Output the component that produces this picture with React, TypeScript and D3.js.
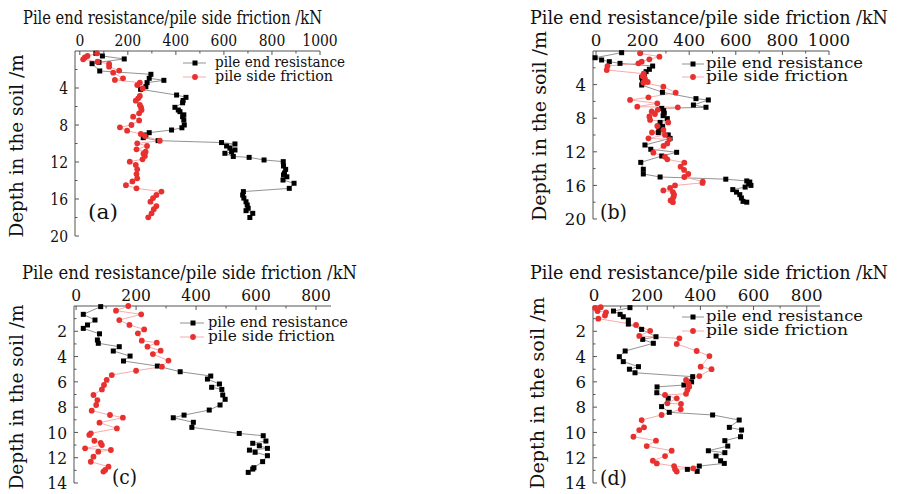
import React from "react";
import * as d3 from "d3";

// ---------------- DATA ----------------
const aEndDepth = [0.25,0.54,0.86,1.22,1.37,2.16,2.52,2.95,3.17,3.42,3.86,4.14,4.76,5.01,5.35,5.6,6.09,6.38,6.56,6.9,7.1,7.46,8.0,8.3,8.54,8.83,9.08,9.37,9.69,9.9,10.05,10.27,10.5,10.7,10.9,11.06,11.4,11.5,11.78,11.96,12.43,12.8,13.2,13.4,13.6,13.95,14.3,14.85,15.2,15.57,15.9,16.3,16.65,17.0,17.26,17.55,18.0];
const aEndValue = [67,94,185,80,51,83,296,289,350,280,275,253,403,442,430,428,396,410,417,433,428,433,435,425,382,289,275,264,326,590,646,611,625,646,632,604,639,705,767,847,848,857,852,848,862,846,892,872,681,678,683,692,697,701,692,720,708];
const aSideDepth = [0.25,0.54,0.7,0.9,1.15,1.4,1.69,2.12,2.34,2.95,3.13,3.42,3.68,4.05,4.86,5.12,5.37,5.84,6.1,6.38,6.74,7.1,7.5,8.0,8.25,8.61,8.97,9.19,9.7,9.98,10.27,10.63,10.88,11.1,11.35,11.71,11.96,12.32,12.79,13.3,13.77,14.1,14.5,14.85,15.2,15.57,15.9,16.29,16.76,17.1,17.55,17.98];
const aSideValue = [72,32,21,14,74,122,122,164,139,180,146,250,239,262,250,243,233,250,255,257,247,222,247,215,167,197,254,271,333,239,280,236,274,265,271,261,208,233,239,236,239,219,192,236,340,319,305,294,319,308,299,285];

const bEndDepth = [0.2,0.8,1.07,1.27,1.47,1.79,2.18,2.46,2.74,3.13,3.65,4.05,4.92,5.67,5.83,6.43,6.7,6.83,7.1,7.4,7.7,8.05,8.5,9.0,9.4,9.72,9.99,10.4,11.19,11.7,12.06,12.5,13.26,14.08,14.64,15.0,15.26,15.47,15.6,15.8,16.0,16.2,16.5,16.8,17.1,17.5,17.9,18.0];
const bEndValue = [110,-4,24,57,103,243,229,215,207,196,199,196,285,429,482,418,472,282,290,293,288,306,275,286,270,267,310,318,210,235,346,282,192,203,203,275,557,647,660,655,665,640,587,603,617,624,631,647];
const bSideDepth = [0.28,0.67,0.99,1.27,1.47,1.79,2.26,2.7,3.0,3.3,3.69,3.77,4.25,4.96,5.52,5.83,6.23,6.63,6.7,7.0,7.2,7.5,7.8,8.2,8.5,8.93,9.4,9.7,9.99,10.4,10.52,11.0,11.3,12.1,12.6,12.9,13.29,13.77,14.16,14.64,15.0,15.55,15.7,16.0,16.3,16.6,16.8,17.1,17.4,17.8,18.0];
const bSideValue = [189,272,229,196,182,49,46,205,200,210,222,203,289,342,225,146,263,177,351,265,239,253,229,232,310,263,289,240,296,225,315,306,290,246,296,306,379,363,378,396,379,458,457,339,318,289,330,335,332,320,330];

const cEndDepth = [0.05,0.66,1.11,1.5,1.77,2.2,2.69,2.95,3.22,3.56,3.96,4.35,4.75,5.2,5.54,5.78,6.17,6.43,6.6,7.04,7.38,7.83,8.23,8.63,8.84,9.2,9.6,10.08,10.26,10.68,10.86,11.05,11.26,11.4,11.57,11.84,12.31,12.79,12.9,13.16];
const cEndValue = [82,24,63,38,24,78,71,74,144,124,180,158,271,347,449,438,478,452,486,489,497,480,444,360,324,391,386,544,624,633,589,611,638,578,597,638,622,593,589,574];
const cSideDepth = [0.0,0.37,0.66,1.11,1.5,1.85,2.16,2.74,2.9,3.22,3.53,3.8,4.32,4.8,5.12,5.46,5.85,6.25,6.6,7.04,7.44,7.83,8.28,8.62,8.83,9.23,9.68,10.07,10.2,10.66,10.82,11.0,11.26,11.39,11.52,11.92,12.32,12.71,12.97,13.1];
const cSideValue = [174,133,217,144,178,227,206,219,269,238,282,256,308,286,200,119,102,93,86,58,71,67,52,113,156,78,136,49,44,61,82,86,30,116,74,58,49,108,97,91];

const dEndDepth = [0.13,0.4,0.66,0.85,1.11,1.43,1.85,2.43,2.64,2.95,3.56,4.01,4.4,4.8,5.0,5.28,5.59,6.0,6.25,6.4,6.86,7.3,7.96,8.41,8.62,9.02,9.6,9.81,10.34,10.65,11.08,11.45,11.6,11.87,12.24,12.45,12.66,12.92,13.08];
const dEndValue = [135,73,98,110,129,129,179,233,183,223,117,95,110,167,133,154,371,367,338,237,236,279,254,283,446,546,509,555,551,492,503,430,492,459,476,490,396,351,388];
const dSideDepth = [0.1,0.15,0.4,0.5,0.75,1.0,1.5,1.96,2.37,2.56,3.0,3.56,3.96,4.8,5.0,5.54,5.85,6.12,6.38,6.65,6.95,7.04,7.3,7.7,7.75,8.17,8.62,9.02,9.6,9.81,10.34,10.65,11.08,11.45,11.87,12.24,12.45,12.66,12.84,12.92,13.1];
const dSideValue = [25,4,13,45,41,16,158,211,170,321,311,386,434,401,442,396,346,355,358,351,346,267,311,276,327,326,254,179,188,170,148,233,198,292,267,221,236,301,373,305,311];

const xTitle = "Pile end resistance/pile side friction /kN";
const yTitle = "Depth in the soil /m";
const seriesNames = ["pile end resistance", "pile side friction"];
const panelLabels = ["(a)", "(b)", "(c)", "(d)"];

// ---------------- LAYOUT ----------------
const FONT = "DejaVu Serif";
const BLACK_LINE = "#777";
const RED_LINE = "#f4a3a3";
const RED = "#e8312f";

type Cfg = {
  endD: number[]; endV: number[]; sideD: number[]; sideV: number[];
  xDomain: [number, number]; xRange: [number, number];
  yMax: number; yRange: [number, number];
  xMax: number; yMajor: number;
  sx: number;
  title: { x: number; y: number; len: number };
  ytitle: { x: number; cy: number; len: number };
  legend: { x0: number; x1: number; mx: number; tx: number; y1: number; y2: number; len1: number; len2: number };
  label: { x: number; y: number; len: number; text: string };
};

const panels: Cfg[] = [
  {
    endD: aEndDepth, endV: aEndValue, sideD: aSideDepth, sideV: aSideValue,
    xDomain: [-20, 1000], xRange: [75, 320], yMax: 20, yRange: [51, 236], xMax: 1000, yMajor: 4, sx: 0.82,
    title: { x: 23, y: 24, len: 299 }, ytitle: { x: 23, cy: 146, len: 183 },
    legend: { x0: 183, x1: 206, mx: 195, tx: 215, y1: 63, y2: 77, len1: 130, len2: 118 },
    label: { x: 88, y: 219, len: 30, text: panelLabels[0] },
  },
  {
    endD: bEndDepth, endV: bEndValue, sideD: bSideDepth, sideV: bSideValue,
    xDomain: [-13, 1000], xRange: [593, 829], yMax: 20, yRange: [51, 219], xMax: 1000, yMajor: 4, sx: 0.98,
    title: { x: 530, y: 24, len: 358 }, ytitle: { x: 546, cy: 126, len: 190 },
    legend: { x0: 682, x1: 704, mx: 693, tx: 706, y1: 64, y2: 77, len1: 157, len2: 142 },
    label: { x: 600, y: 219, len: 27, text: panelLabels[1] },
  },
  {
    endD: cEndDepth, endV: cEndValue, sideD: cSideDepth, sideV: cSideValue,
    xDomain: [-7, 850], xRange: [74, 331], yMax: 14, yRange: [306, 483], xMax: 800, yMajor: 2, sx: 0.91,
    title: { x: 22, y: 279, len: 335 }, ytitle: { x: 23, cy: 397, len: 185 },
    legend: { x0: 180, x1: 204, mx: 193, tx: 208, y1: 323, y2: 337, len1: 140, len2: 127 },
    label: { x: 112, y: 484, len: 25, text: panelLabels[2] },
  },
  {
    endD: dEndDepth, endV: dEndValue, sideD: dSideDepth, sideV: dSideValue,
    xDomain: [-4, 850], xRange: [593, 820], yMax: 14, yRange: [306, 483], xMax: 800, yMajor: 2, sx: 0.98,
    title: { x: 530, y: 279, len: 358 }, ytitle: { x: 544, cy: 393, len: 192 },
    legend: { x0: 682, x1: 704, mx: 693, tx: 706, y1: 317, y2: 331, len1: 157, len2: 142 },
    label: { x: 600, y: 485, len: 27, text: panelLabels[3] },
  },
];

function Panel({ c }: { c: Cfg }) {
  const x = d3.scaleLinear().domain(c.xDomain).range(c.xRange);
  const y = d3.scaleLinear().domain([0, c.yMax]).range(c.yRange);
  const ax = c.xRange[0];
  const ay = c.yRange[0];
  const line = d3.line<[number, number]>().x((p) => x(p[1])).y((p) => y(p[0]));
  const endPts: [number, number][] = c.endD.map((d, i) => [d, c.endV[i]]);
  const sidePts: [number, number][] = c.sideD.map((d, i) => [d, c.sideV[i]]);
  const xMajor = d3.range(0, c.xMax + 1, 200);
  const xMinor = d3.range(100, c.xMax, 200);
  const yMajorT = d3.range(c.yMajor, c.yMax + 0.001, c.yMajor);
  const yMinorT = d3.range(c.yMajor / 2, c.yMax, c.yMajor);
  const axisColor = "#555";
  return (
    <g>
      <line x1={ax} x2={c.xRange[1]} y1={ay} y2={ay} stroke={axisColor} strokeWidth={1} />
      <line x1={ax} x2={ax} y1={ay} y2={c.yRange[1]} stroke={axisColor} strokeWidth={1} />
      {xMajor.map((v) => (
        <line key={"xm" + v} x1={x(v)} x2={x(v)} y1={ay} y2={ay + 4} stroke={axisColor} />
      ))}
      {xMinor.map((v) => (
        <line key={"xn" + v} x1={x(v)} x2={x(v)} y1={ay} y2={ay + 2.5} stroke={axisColor} />
      ))}
      {yMajorT.map((v) => (
        <line key={"ym" + v} x1={ax} x2={ax + 4} y1={y(v)} y2={y(v)} stroke={axisColor} />
      ))}
      {yMinorT.map((v) => (
        <line key={"yn" + v} x1={ax} x2={ax + 2.5} y1={y(v)} y2={y(v)} stroke={axisColor} />
      ))}
      {xMajor.map((v) => (
        <text key={"xl" + v} transform={`translate(${x(v)},${ay - 5}) scale(${c.sx},1)`} textAnchor="middle" fontSize={17}>
          {v}
        </text>
      ))}
      {yMajorT.map((v) => (
        <text key={"yl" + v} transform={`translate(${ax - 7},${y(v)}) scale(${c.sx},1)`} textAnchor="end" dy="0.36em" fontSize={17}>
          {v}
        </text>
      ))}
      <text x={c.title.x} y={c.title.y} fontSize={19} textLength={c.title.len} lengthAdjust="spacingAndGlyphs">
        {xTitle}
      </text>
      <text transform={`translate(${c.ytitle.x},${c.ytitle.cy}) rotate(-90)`} textAnchor="middle" fontSize={18.5}
        textLength={c.ytitle.len} lengthAdjust="spacingAndGlyphs">
        {yTitle}
      </text>
      <path d={line(endPts) || ""} fill="none" stroke={BLACK_LINE} strokeWidth={0.8} />
      <path d={line(sidePts) || ""} fill="none" stroke={RED_LINE} strokeWidth={0.9} />
      {endPts.map((p, i) => (
        <rect key={"e" + i} x={x(p[1]) - 2.5} y={y(p[0]) - 2.5} width={5} height={5} fill="#000" />
      ))}
      {sidePts.map((p, i) => (
        <circle key={"s" + i} cx={x(p[1])} cy={y(p[0])} r={2.9} fill={RED} />
      ))}
      <line x1={c.legend.x0} x2={c.legend.x1} y1={c.legend.y1} y2={c.legend.y1} stroke={BLACK_LINE} strokeWidth={0.8} />
      <rect x={c.legend.mx - 2.5} y={c.legend.y1 - 2.5} width={5} height={5} fill="#000" />
      <text x={c.legend.tx} y={c.legend.y1} dy="0.3em" fontSize={14} textLength={c.legend.len1} lengthAdjust="spacingAndGlyphs">
        {seriesNames[0]}
      </text>
      <line x1={c.legend.x0} x2={c.legend.x1} y1={c.legend.y2} y2={c.legend.y2} stroke={RED_LINE} strokeWidth={0.9} />
      <circle cx={c.legend.mx} cy={c.legend.y2} r={2.9} fill={RED} />
      <text x={c.legend.tx} y={c.legend.y2} dy="0.3em" fontSize={14} textLength={c.legend.len2} lengthAdjust="spacingAndGlyphs">
        {seriesNames[1]}
      </text>
      <text x={c.label.x} y={c.label.y} fontSize={20} textLength={c.label.len} lengthAdjust="spacingAndGlyphs">
        {c.label.text}
      </text>
    </g>
  );
}

export default function App() {
  return (
    <svg width={897} height={494} style={{ position: "absolute", left: 0, top: 0, background: "#fff" }}
      fontFamily={FONT} fill="#111">
      <rect width={897} height={494} fill="#fff" />
      {panels.map((c, i) => (
        <Panel key={i} c={c} />
      ))}
    </svg>
  );
}
